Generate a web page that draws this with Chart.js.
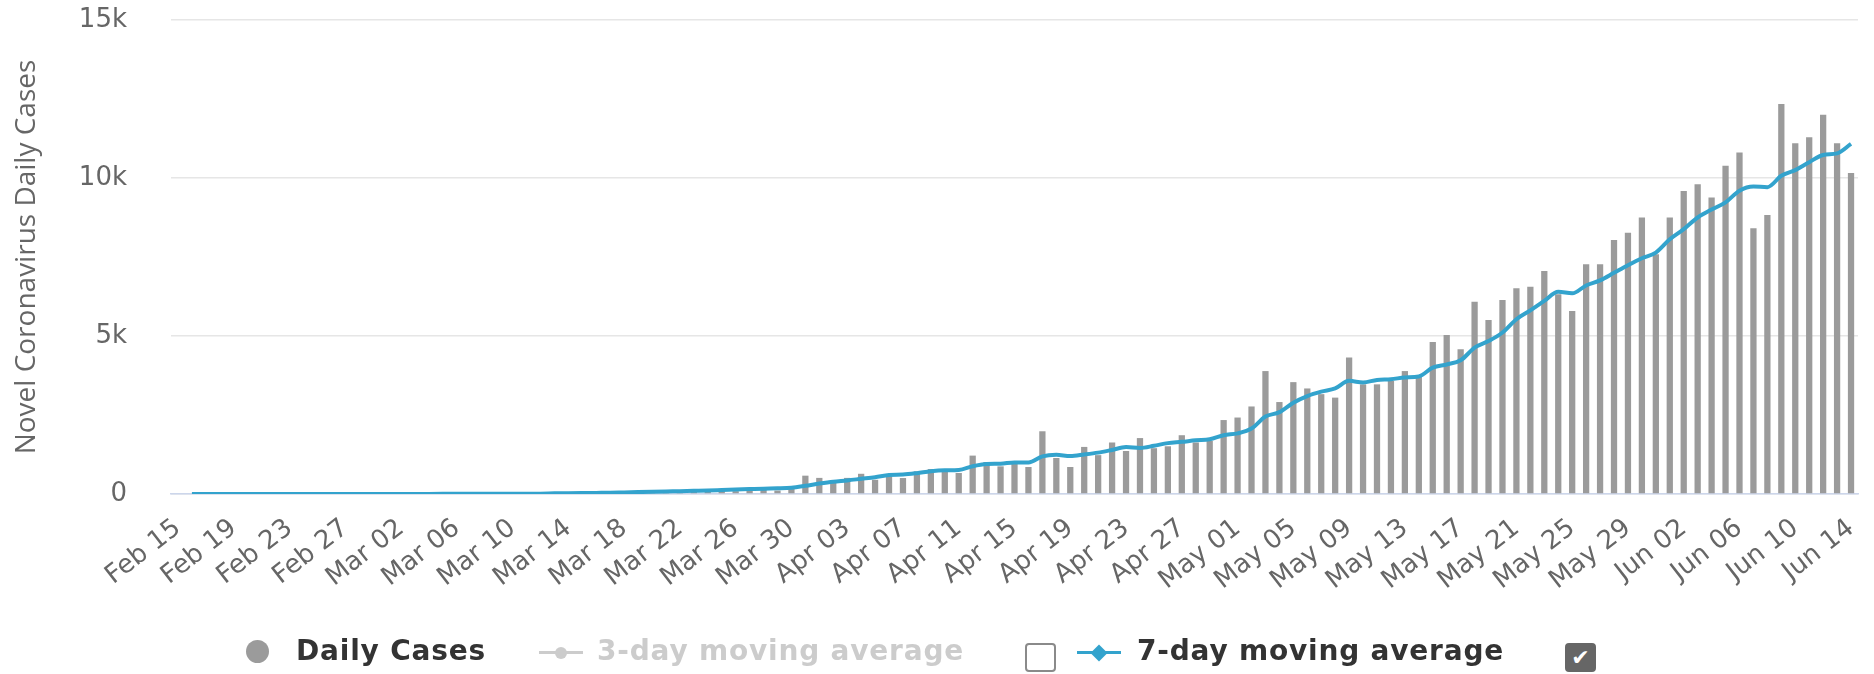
<!DOCTYPE html>
<html>
<head>
<meta charset="utf-8">
<script src="https://cdn.jsdelivr.net/npm/chart.js@4.4.1/dist/chart.umd.min.js"></script>
<style>
  html, body { margin: 0; padding: 0; background: #fff; }
  #wrap { position: relative; width: 1874px; height: 674px; }
  #legend { position: absolute; left: 0; top: 634px; width: 1874px; height: 40px;
            font-family: "DejaVu Sans", sans-serif; font-weight: bold; font-size: 28px; }
  .it { position: absolute; top: 0; height: 34px; line-height: 34px; white-space: nowrap; letter-spacing: 0.8px; }
  .txt { color: #333; }
  .off { color: #cccccc; }
  .dot { width: 23px; height: 23px; border-radius: 50%; background: #9b9b9b; top: 6px; }
  .seg { height: 3px; top: 17px; width: 44px; }
  .mk { position: absolute; width: 12px; height: 12px; left: 16px; top: -4.5px; }
  .box { width: 27px; height: 25px; top: 9px; border: 2px solid #8a8a8a; border-radius: 4px; background: #fff; }
  .box.on { background: #666; border-color: #666; color: #fff; font-size: 22px; line-height: 25px; text-align: center; letter-spacing: 0; }
</style>
</head>
<body>
<div id="wrap">
  <canvas id="chart"></canvas>
  <div id="legend">
    <div class="it dot" style="left:246px"></div>
    <div class="it txt" style="left:296px">Daily Cases</div>
    <div class="it seg" style="left:539px;background:#cccccc"><div class="mk" style="background:#cccccc;border-radius:50%"></div></div>
    <div class="it off" style="left:597px">3-day moving average</div>
    <div class="it box" style="left:1025px"></div>
    <div class="it seg" style="left:1077px;background:#33a3cd"><div class="mk" style="background:#33a3cd;transform:rotate(45deg)"></div></div>
    <div class="it txt" style="left:1137px">7-day moving average</div>
    <div class="it box on" style="left:1565px">✔</div>
  </div>
</div>
<script>
// categories: one per day, Feb 15 .. Jun 14
const dates = [
  'Feb 15','Feb 16','Feb 17','Feb 18','Feb 19','Feb 20','Feb 21','Feb 22','Feb 23','Feb 24','Feb 25','Feb 26','Feb 27','Feb 28','Feb 29',
  'Mar 01','Mar 02','Mar 03','Mar 04','Mar 05','Mar 06','Mar 07','Mar 08','Mar 09','Mar 10','Mar 11','Mar 12','Mar 13','Mar 14','Mar 15',
  'Mar 16','Mar 17','Mar 18','Mar 19','Mar 20','Mar 21','Mar 22','Mar 23','Mar 24','Mar 25','Mar 26','Mar 27','Mar 28','Mar 29','Mar 30','Mar 31',
  'Apr 01','Apr 02','Apr 03','Apr 04','Apr 05','Apr 06','Apr 07','Apr 08','Apr 09','Apr 10','Apr 11','Apr 12','Apr 13','Apr 14','Apr 15',
  'Apr 16','Apr 17','Apr 18','Apr 19','Apr 20','Apr 21','Apr 22','Apr 23','Apr 24','Apr 25','Apr 26','Apr 27','Apr 28','Apr 29','Apr 30',
  'May 01','May 02','May 03','May 04','May 05','May 06','May 07','May 08','May 09','May 10','May 11','May 12','May 13','May 14','May 15',
  'May 16','May 17','May 18','May 19','May 20','May 21','May 22','May 23','May 24','May 25','May 26','May 27','May 28','May 29','May 30','May 31',
  'Jun 01','Jun 02','Jun 03','Jun 04','Jun 05','Jun 06','Jun 07','Jun 08','Jun 09','Jun 10','Jun 11','Jun 12','Jun 13','Jun 14'
];

// daily new cases (bars)
const dailyCases = [
  0,0,0,0,0,0,0,0,0,0,0,0,0,0,0,
  0,1,1,22,2,1,3,5,9,15,8,12,10,10,20,
  14,22,30,40,50,75,70,90,80,100,90,150,160,110,220,580,
  510,440,510,640,450,560,505,717,790,750,665,1215,1013,875,980,
  855,1985,1140,855,1490,1230,1630,1360,1770,1450,1510,1860,1630,1680,2340,
  2420,2770,3890,2910,3540,3340,3160,3050,4320,3470,3470,3580,3890,3730,4810,
  5030,4580,6080,5510,6140,6510,6560,7060,6320,5790,7270,7270,8040,8270,8750,7590,
  8750,9590,9800,9380,10390,10810,8410,8830,12340,11100,11290,12000,11100,10160
];

// 7-day moving average (line)
const movingAvg7 = [
  null,0,0,0,0,0,0,0,0,0,0,0,0,0,0,
  0,0,0,3,4,4,4,5,6,8,9,10,20,25,30,
  35,40,50,60,70,80,90,100,110,125,140,155,170,180,200,260,
  330,390,430,480,530,600,615,660,720,750,760,880,950,960,1000,
  1000,1190,1240,1200,1250,1310,1395,1485,1455,1525,1610,1650,1700,1730,1860,
  1920,2070,2450,2590,2890,3100,3240,3340,3580,3530,3610,3630,3690,3720,4000,
  4100,4230,4630,4840,5110,5530,5810,6110,6400,6350,6600,6760,7000,7240,7460,7640,
  8060,8380,8750,9000,9230,9600,9730,9710,10070,10250,10500,10730,10780,11080
];

const yTicks = [0, 5000, 10000, 15000];
const yTickLabels = ['0', '5k', '10k', '15k'];

new Chart(document.getElementById('chart'), {
  type: 'bar',
  data: {
    labels: dates,
    datasets: [{
      type: 'line',
      label: '7-day moving average',
      data: movingAvg7,
      borderColor: '#33a3cd',
      borderWidth: 4,
      pointRadius: 0,
      cubicInterpolationMode: 'monotone',
      order: 0
    }, {
      type: 'bar',
      label: 'Daily Cases',
      data: dailyCases,
      backgroundColor: '#9b9b9b',
      barPercentage: 0.45,
      categoryPercentage: 1,
      order: 1
    }]
  },
  options: {
    responsive: true,
    maintainAspectRatio: false,
    animation: false,
    layout: { padding: { left: 6, right: 16, top: 20, bottom: 0 } },
    plugins: {
      legend: { display: false },
      tooltip: { enabled: false }
    },
    scales: {
      x: {
        afterFit: axis => { axis.height = 180; axis.paddingLeft = 0; axis.paddingRight = 0; },
        grid: { display: false },
        border: { color: '#ccd6eb', width: 1.5 },
        ticks: {
          autoSkip: false,
          minRotation: 38,
          maxRotation: 38,
          padding: 11,
          color: '#666666',
          font: { family: 'DejaVu Sans', size: 26 },
          callback: (v, i) => (i % 4 === 0 ? dates[i] : '')
        }
      },
      y: {
        min: 0,
        max: 15000,
        afterBuildTicks: axis => { axis.ticks = yTicks.map(v => ({ value: v })); },
        afterFit: axis => { axis.width = 165; axis.paddingTop = 0; axis.paddingBottom = 0; },
        border: { display: false },
        grid: { color: '#e6e6e6', lineWidth: 1.5, drawTicks: false },
        ticks: {
          padding: 44,
          color: '#666666',
          font: { family: 'DejaVu Sans', size: 26 },
          callback: v => yTickLabels[yTicks.indexOf(v)]
        },
        title: {
          display: true,
          text: 'Novel Coronavirus Daily Cases',
          color: '#666666',
          font: { family: 'Open Sans', size: 28 },
          padding: { top: 4, bottom: 0 }
        }
      }
    }
  }
});
</script>
</body>
</html>
